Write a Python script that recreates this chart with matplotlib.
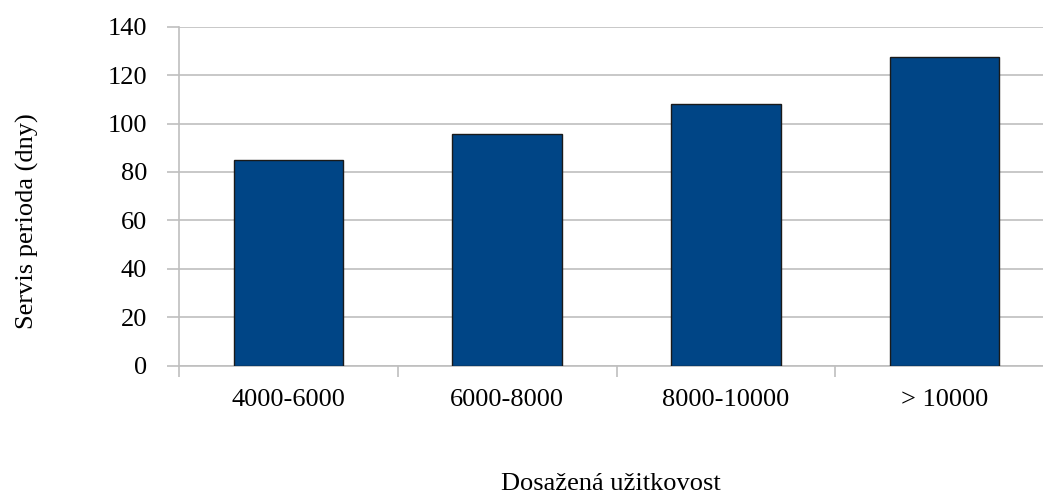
import numpy as np
import matplotlib.pyplot as plt

plt.rcParams["font.family"] = ["Liberation Serif", "DejaVu Serif"]

categories = ["4000-6000", "6000-8000", "8000-10000", "> 10000"]
servis_dny = [85, 95.5, 108, 127.5]
y_ticks = [0, 20, 40, 60, 80, 100, 120, 140]

grid_col = "#bfbfbf"
bar_col = "#004586"

fig = plt.figure(figsize=(10.43, 4.94), dpi=100)
ax = fig.add_axes([0.1716, 0.2597, 0.8284, 0.6863])

x = np.arange(len(categories))
ax.bar(x, servis_dny, width=0.5, color=bar_col, edgecolor="#1a1a1a", linewidth=1.0, zorder=3)

ax.set_ylim(0, 140)
ax.set_xlim(-0.5, 3.449)
ax.set_yticks(y_ticks)
ax.set_yticklabels([str(v) for v in y_ticks], fontsize=19)
ax.yaxis.grid(True, color=grid_col, linewidth=1.2, zorder=0)

# category labels at bar centres, tick marks at category boundaries
ax.set_xticks(x)
ax.set_xticklabels(categories, fontsize=19)
ax.tick_params(axis="x", length=0, pad=17)
ax.set_xticks(np.arange(len(categories)) - 0.5, minor=True)
ax.tick_params(axis="x", which="minor", length=8, color=grid_col, width=1.2)
ax.tick_params(axis="y", length=9, color=grid_col, width=1.2, pad=14)

for side in ["top", "right"]:
    ax.spines[side].set_visible(False)
for side in ["left", "bottom"]:
    ax.spines[side].set_color(grid_col)
    ax.spines[side].set_linewidth(1.2)

fig.text(0.026, 0.553, "Servis perioda (dny)", rotation=90, fontsize=19, ha="center", va="center")
fig.text(0.586, 0.02, "Dosažená užitkovost", fontsize=19, ha="center", va="center")

fig.savefig("out.png", dpi=100)
plt.close("all")
